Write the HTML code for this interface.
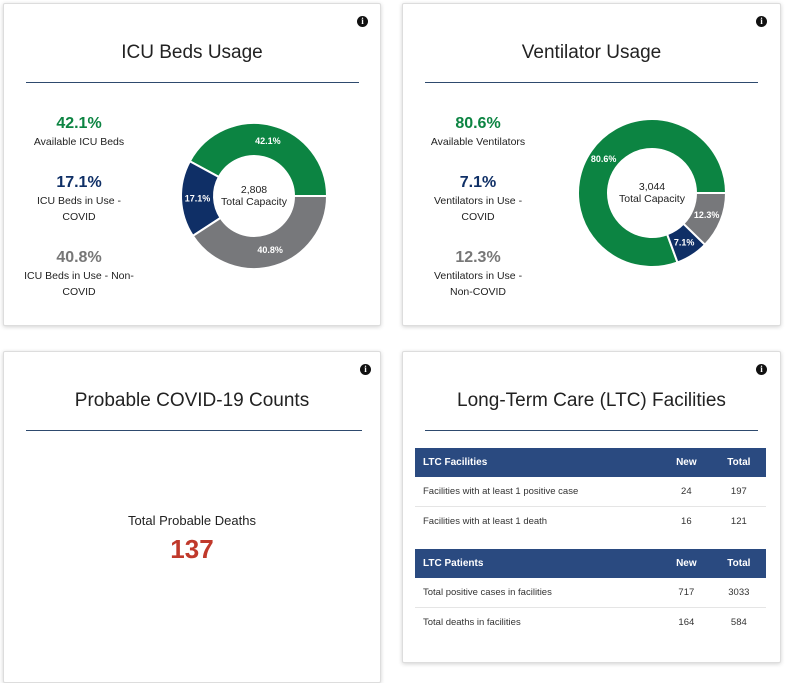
<!DOCTYPE html>
<html><head><meta charset="utf-8"><style>
body{margin:0;width:785px;height:669px;background:#fff;font-family:"Liberation Sans",sans-serif;position:relative;overflow:hidden;color:#222}
.card{position:absolute;background:#fff;border:1px solid #ddd;box-shadow:0 1px 4px rgba(0,0,0,.18);border-radius:2px}
.title{position:absolute;left:0;right:0;text-align:center;font-size:19px;color:#222}
.rule{position:absolute;height:1px;background:#2e4a6e}
.info{position:absolute;width:11px;height:11px;border-radius:50%;background:#111;color:#fff;font-size:9px;font-weight:bold;text-align:center;line-height:11px;font-family:"Liberation Serif",serif}
.stat{position:absolute;width:150px;text-align:center;font-size:10.5px;line-height:16px;color:#222}
.stat b{display:block;font-size:16px;line-height:20px}
table{position:absolute;border-collapse:collapse;font-size:9.5px;color:#333}
th{background:#2a4a80;color:#fff;text-align:left;height:29px;padding:0 8px;font-size:10px}
td{height:29px;padding:0 8px;border-bottom:1px solid #e5e5e5}
.c{text-align:center}
</style></head><body>

<div class="card" style="left:3px;top:3px;width:376px;height:321px">
  <div class="info" style="left:353px;top:12px">i</div>
  <div class="title" style="top:38px">ICU Beds Usage</div>
  <div class="rule" style="left:22px;width:333px;top:78px"></div>
  <div class="stat" style="left:0;top:110px"><b style="color:#0c8442">42.1%</b>Available ICU Beds</div>
  <div class="stat" style="left:0;top:169px"><b style="color:#0f2f66">17.1%</b>ICU Beds in Use -<br>COVID</div>
  <div class="stat" style="left:0;top:244px"><b style="color:#777">40.8%</b>ICU Beds in Use - Non-<br>COVID</div>
</div>

<div class="card" style="left:402px;top:3px;width:377px;height:321px">
  <div class="info" style="left:353px;top:12px">i</div>
  <div class="title" style="top:38px">Ventilator Usage</div>
  <div class="rule" style="left:22px;width:333px;top:78px"></div>
  <div class="stat" style="left:0;top:110px"><b style="color:#0c8442">80.6%</b>Available Ventilators</div>
  <div class="stat" style="left:0;top:169px"><b style="color:#0f2f66">7.1%</b>Ventilators in Use -<br>COVID</div>
  <div class="stat" style="left:0;top:244px"><b style="color:#777">12.3%</b>Ventilators in Use -<br>Non-COVID</div>
</div>

<div class="card" style="left:3px;top:351px;width:376px;height:330px">
  <div class="info" style="left:356px;top:12px">i</div>
  <div class="title" style="top:38px">Probable COVID-19 Counts</div>
  <div class="rule" style="left:22px;width:336px;top:78px"></div>
  <div style="position:absolute;left:0;right:0;top:161px;text-align:center;font-size:13px">Total Probable Deaths</div>
  <div style="position:absolute;left:0;right:0;top:182px;text-align:center;font-size:26px;font-weight:bold;color:#c0392b">137</div>
</div>

<div class="card" style="left:402px;top:351px;width:377px;height:310px">
  <div class="info" style="left:353px;top:12px">i</div>
  <div class="title" style="top:38px">Long-Term Care (LTC) Facilities</div>
  <div class="rule" style="left:22px;width:333px;top:78px"></div>
  <table style="left:12px;top:96px;width:351px">
    <tr><th style="width:230px">LTC Facilities</th><th class="c">New</th><th class="c">Total</th></tr>
    <tr><td>Facilities with at least 1 positive case</td><td class="c">24</td><td class="c">197</td></tr>
    <tr><td style="border:none">Facilities with at least 1 death</td><td class="c" style="border:none">16</td><td class="c" style="border:none">121</td></tr>
  </table>
  <table style="left:12px;top:197px;width:351px">
    <tr><th style="width:230px">LTC Patients</th><th class="c">New</th><th class="c">Total</th></tr>
    <tr><td>Total positive cases in facilities</td><td class="c">717</td><td class="c">3033</td></tr>
    <tr><td style="border:none">Total deaths in facilities</td><td class="c" style="border:none">164</td><td class="c" style="border:none">584</td></tr>
  </table>
</div>

<svg id="donuts" width="785" height="669" style="position:absolute;left:0;top:0;pointer-events:none"></svg>
<script>
const icuLabels=["Available ICU Beds","ICU Beds in Use - COVID","ICU Beds in Use - Non-COVID"];
const icuValues=[42.1,17.1,40.8];
const icuTotal="2,808";
const ventLabels=["Available Ventilators","Ventilators in Use - COVID","Ventilators in Use - Non-COVID"];
const ventValues=[80.6,7.1,12.3];
const ventTotal="3,044";
const colors=["#0c8442","#0f2f66","#77787b"];
const NS="http://www.w3.org/2000/svg";
const svg=document.getElementById('donuts');
function donut(name,values,total,cx,cy,R,r){
  const sum=values.reduce((a,b)=>a+b,0);
  let a0=0;
  values.forEach((v,i)=>{
    const a1=a0+v/sum*2*Math.PI;
    const p=(a,rad)=>[cx+rad*Math.cos(-a),cy+rad*Math.sin(-a)];
    const large=(a1-a0)>Math.PI?1:0;
    const [x0,y0]=p(a0,R),[x1,y1]=p(a1,R),[x2,y2]=p(a1,r),[x3,y3]=p(a0,r);
    const path=document.createElementNS(NS,'path');
    path.setAttribute('d',`M${x0},${y0}A${R},${R} 0 ${large} 0 ${x1},${y1}L${x2},${y2}A${r},${r} 0 ${large} 1 ${x3},${y3}Z`);
    path.setAttribute('fill',colors[i]);path.setAttribute('stroke','#fff');path.setAttribute('stroke-width','2');
    
    
    svg.appendChild(path);
    const am=(a0+a1)/2,lr=(R+r)/2;
    const [lx,ly]=p(am,lr);
    const t=document.createElementNS(NS,'text');
    t.setAttribute('x',lx);t.setAttribute('y',ly+3);t.setAttribute('text-anchor','middle');
    t.setAttribute('font-size','9');t.setAttribute('font-weight','bold');t.setAttribute('fill','#fff');
    t.setAttribute('font-family','Liberation Sans, sans-serif');
    t.textContent=v.toFixed(1)+'%';
    
    
    svg.appendChild(t);
    a0=a1;
  });
  [[total,-3],["Total Capacity",9]].forEach(([s,dy],k)=>{
    const t=document.createElementNS(NS,'text');
    t.setAttribute('x',cx);t.setAttribute('y',cy+dy);t.setAttribute('text-anchor','middle');
    t.setAttribute('font-size','10.5');t.setAttribute('fill','#222');t.setAttribute('font-family','Liberation Sans, sans-serif');
    t.textContent=s;
    
    
    svg.appendChild(t);
  });
}
donut('icu-donut',icuValues,icuTotal,254,196,73,40);
donut('vent-donut',ventValues,ventTotal,652,193,74,44);
</script>
</body></html>
